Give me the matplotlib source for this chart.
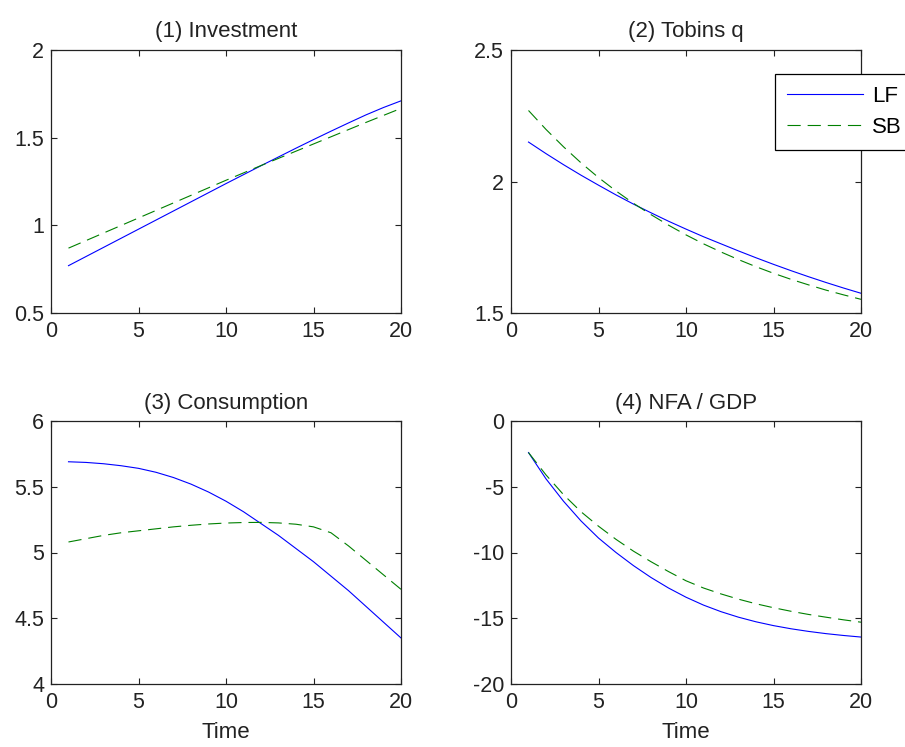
# -*- coding: utf-8 -*-
"""
Impulse responses, LF vs SB, four panels
"""

import matplotlib
matplotlib.use("Agg")
import matplotlib.pyplot as plt
from matplotlib.ticker import FormatStrFormatter

time = list(range(1, 21))

# (1) Investment
inv_lf = [0.77, 0.822, 0.874, 0.926, 0.978, 1.030, 1.082, 1.134, 1.186, 1.238,
          1.289, 1.340, 1.390, 1.440, 1.489, 1.537, 1.584, 1.630, 1.672, 1.71]
inv_sb = [0.87, 0.913, 0.956, 0.999, 1.042, 1.085, 1.128, 1.171, 1.214, 1.257,
          1.299, 1.341, 1.382, 1.423, 1.464, 1.505, 1.546, 1.587, 1.627, 1.667]

# (2) Tobins q
q_lf = [2.15, 2.106, 2.064, 2.024, 1.986, 1.949, 1.914, 1.881, 1.849, 1.819,
        1.790, 1.763, 1.736, 1.710, 1.685, 1.661, 1.638, 1.616, 1.595, 1.575]
q_sb = [2.27, 2.198, 2.132, 2.071, 2.015, 1.964, 1.917, 1.874, 1.834, 1.797,
        1.763, 1.732, 1.703, 1.676, 1.651, 1.628, 1.607, 1.587, 1.569, 1.552]

# (3) Consumption
cons_lf = [5.69, 5.685, 5.675, 5.66, 5.64, 5.61, 5.57, 5.52, 5.46, 5.39,
           5.31, 5.22, 5.13, 5.03, 4.93, 4.82, 4.71, 4.59, 4.47, 4.35]
cons_sb = [5.08, 5.105, 5.13, 5.15, 5.165, 5.18, 5.195, 5.207, 5.217, 5.224,
           5.228, 5.229, 5.225, 5.215, 5.195, 5.15, 5.05, 4.94, 4.83, 4.72]

# (4) NFA / GDP
nfa_lf = [-2.4, -4.4, -6.1, -7.6, -8.9, -10.0, -11.0, -11.9, -12.7, -13.4,
          -14.0, -14.5, -14.92, -15.27, -15.56, -15.8, -16.0, -16.17, -16.31, -16.43]
nfa_sb = [-2.4, -4.1, -5.6, -6.9, -8.0, -9.0, -9.9, -10.7, -11.45, -12.15,
          -12.7, -13.15, -13.55, -13.9, -14.2, -14.47, -14.71, -14.92, -15.12, -15.3]

titles = ["(1) Investment", "(2) Tobins q", "(3) Consumption", "(4) NFA / GDP"]
series = [(inv_lf, inv_sb), (q_lf, q_sb), (cons_lf, cons_sb), (nfa_lf, nfa_sb)]
ylims = [(0.5, 2), (1.5, 2.5), (4, 6), (-20, 0)]
yticks = [[0.5, 1, 1.5, 2], [1.5, 2, 2.5], [4, 4.5, 5, 5.5, 6], [-20, -15, -10, -5, 0]]
xticks = [0, 5, 10, 15, 20]

plt.rcParams['font.family'] = ['Liberation Sans', 'DejaVu Sans']
plt.rcParams['lines.scale_dashes'] = False

W, H = 905, 747
fig = plt.figure(figsize=(W / 100, H / 100), dpi=100)

# axes boxes in pixels: left, top, right, bottom
boxes = [(51, 50, 401, 313), (511, 50, 861, 313),
         (51, 421, 401, 684), (511, 421, 861, 684)]

axes = []
for i, (l, t, r, b) in enumerate(boxes):
    ax = fig.add_axes([l / W, 1 - b / H, (r - l) / W, (b - t) / H])
    lf, sb = series[i]
    ax.plot(time, lf, color=(0, 0, 1), lw=0.8, label="LF")
    ax.plot(time, sb, color=(0, 0.5, 0), lw=0.8, linestyle=(0, (9.5, 5)), label="SB")
    ax.set_xlim(0, 20)
    ax.set_ylim(*ylims[i])
    ax.set_xticks(xticks)
    ax.set_yticks(yticks[i])
    ax.yaxis.set_major_formatter(FormatStrFormatter('%g'))
    ax.tick_params(direction='in', length=4, width=0.8, top=True, right=True,
                   labelsize=15.5, colors='#222222')
    ax.tick_params(axis='x', pad=6)
    ax.tick_params(axis='y', pad=5)
    for sp in ax.spines.values():
        sp.set_linewidth(0.9)
        sp.set_color('#222222')
    ax.set_title(titles[i], fontsize=16, pad=9, color='#222222')
    if i >= 2:
        ax.set_xlabel("Time", fontsize=16, labelpad=6, color='#222222')
    axes.append(ax)

leg = axes[1].legend(loc='upper left', bbox_to_anchor=(775 / W, 1 - 74 / H),
                     bbox_transform=fig.transFigure, borderaxespad=0,
                     fontsize=16, handlelength=3.4, handletextpad=0.4,
                     labelspacing=0.45, borderpad=0.55, fancybox=False,
                     framealpha=1, edgecolor='black')
leg.get_frame().set_linewidth(0.9)

fig.savefig("out.png", dpi=100)
